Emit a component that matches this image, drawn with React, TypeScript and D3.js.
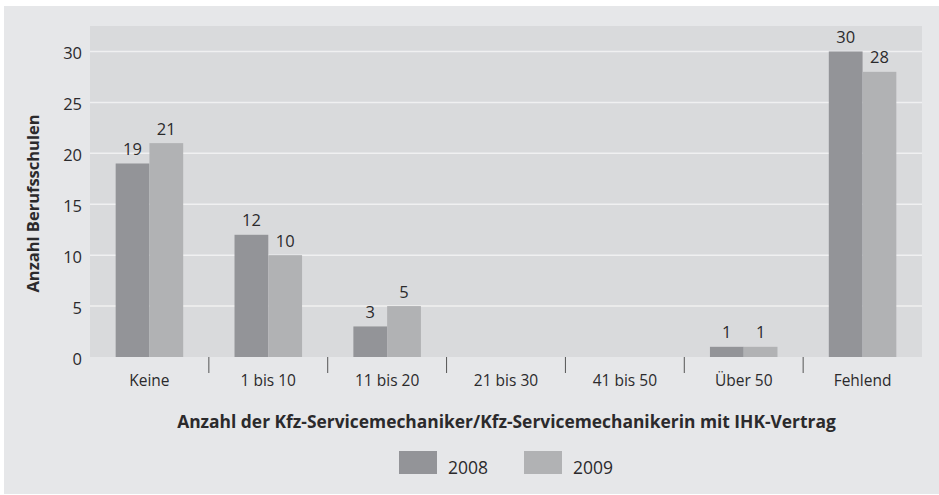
import React from "react";
import * as d3 from "d3";

const categories = ["Keine", "1 bis 10", "11 bis 20", "21 bis 30", "41 bis 50", "Über 50", "Fehlend"];
const series = ["2008", "2009"];
const values2008 = [19, 12, 3, 0, 0, 1, 30];
const values2009 = [21, 10, 5, 0, 0, 1, 28];
const yTicks = [0, 5, 10, 15, 20, 25, 30];
const yTitle = "Anzahl Berufsschulen";
const xTitle = "Anzahl der Kfz-Servicemechaniker/Kfz-Servicemechanikerin mit IHK-Vertrag";
const colors = ["#939498", "#b1b2b4"];

const W = 939;
const H = 495;
const plot = { left: 90, right: 922, top: 26, bottom: 357 };
const FONT = "'Open Sans', 'Noto Sans', sans-serif";
const TEXT = "#2b2a2c";

export default function App() {
  const x0 = d3.scaleBand<string>().domain(categories).range([plot.left, plot.right]).padding(0);
  const x1 = d3.scaleBand<string>().domain(series).range([0, x0.bandwidth()]).paddingInner(0).paddingOuter(0.76);
  const y = d3.scaleLinear().domain([0, 32.5]).range([plot.bottom, plot.top]);
  const seriesValues = [values2008, values2009];

  return (
    <svg width={W} height={H} style={{ position: "absolute", left: 0, top: 0, display: "block" }} fontFamily={FONT}>
      <rect x={0} y={0} width={W} height={H} fill="#ffffff" />
      <rect x={4} y={6} width={W - 4} height={H - 7} fill="#e6e7e9" />
      <rect x={plot.left} y={plot.top} width={plot.right - plot.left} height={plot.bottom - plot.top} fill="#d9dadc" />
      {yTicks.filter((t) => t > 0).map((t) => (
        <line key={t} x1={plot.left} x2={plot.right} y1={y(t)} y2={y(t)} stroke="#f0f0f1" strokeWidth={1.5} />
      ))}
      {yTicks.map((t) => (
        <text key={"yl" + t} x={82} y={y(t) + 7.5} textAnchor="end" fontSize={16.5} fill={TEXT}>
          {t}
        </text>
      ))}
      <text
        transform={`translate(39, 203.5) rotate(-90)`}
        textAnchor="middle"
        fontSize={16.5}
        fontWeight="bold"
        fill={TEXT}
      >
        {yTitle}
      </text>
      {categories.map((c, i) => (
        <g key={c}>
          {series.map((s, j) => {
            const v = seriesValues[j][i];
            if (!v) return null;
            const bx = (x0(c) as number) + (x1(s) as number);
            return (
              <g key={s}>
                <rect x={bx} y={y(v)} width={x1.bandwidth()} height={y(0) - y(v)} fill={colors[j]} />
                <text x={bx + x1.bandwidth() / 2} y={y(v) - 8.5} textAnchor="middle" fontSize={16.5} fill={TEXT}>
                  {v}
                </text>
              </g>
            );
          })}
          <text x={(x0(c) as number) + x0.bandwidth() / 2} y={386} textAnchor="middle" fontSize={15.5} fill={TEXT}>
            {c}
          </text>
        </g>
      ))}
      {categories.slice(1).map((c) => (
        <line key={"t" + c} x1={x0(c) as number} x2={x0(c) as number} y1={plot.bottom} y2={plot.bottom + 16} stroke="#555" strokeWidth={1} />
      ))}
      <text x={(plot.left + plot.right) / 2 + 0.5} y={428} textAnchor="middle" fontSize={17.4} fontWeight="bold" fill={TEXT}>
        {xTitle}
      </text>
      {series.map((s, j) => (
        <g key={"lg" + s} transform={`translate(${399 + j * 125}, 451)`}>
          <rect x={0} y={0} width={38} height={23} fill={colors[j]} />
          <text x={49} y={23} fontSize={17.5} fill={TEXT}>
            {s}
          </text>
        </g>
      ))}
    </svg>
  );
}
